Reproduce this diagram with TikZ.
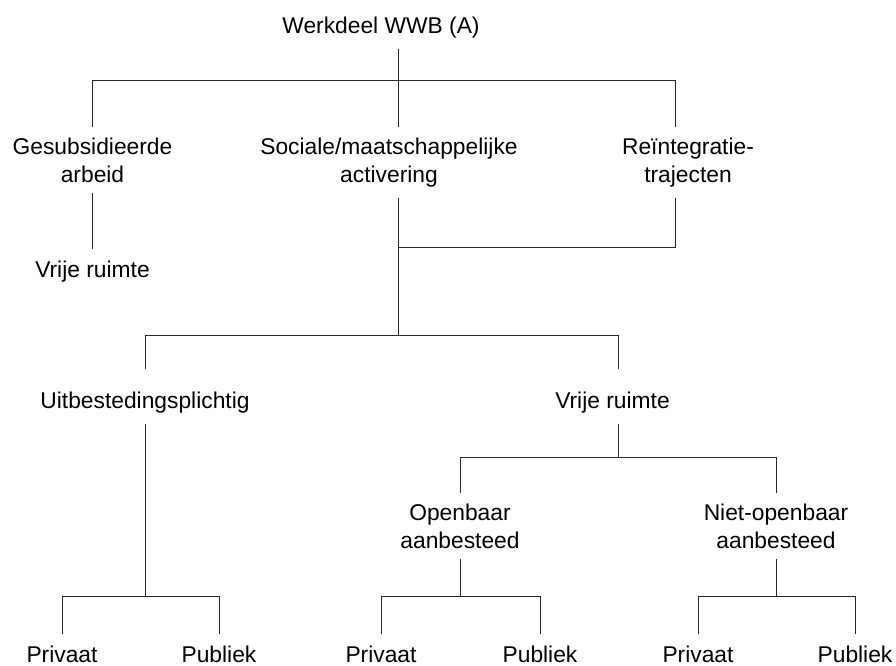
\documentclass[tikz,border=0pt]{standalone}
\usepackage{fontspec}
\setmainfont{Liberation Sans}
\begin{document}
\begin{tikzpicture}[x=1pt,y=-1pt,
	label/.style={font=\fontsize{22.8}{28}\selectfont, align=center, inner xsep=0pt, inner ysep=11pt, outer sep=0pt},
	link/.style={line width=1pt, draw=black!85}]
	\useasboundingbox (0,0) rectangle (896,665);
	% tekstblokken
	\node[label, anchor=base]  (root)  at (381,33)    {Werkdeel WWB (A)};
	\node[label, anchor=north] (gesub) at (92.5,126.6) {Gesubsidieerde\\arbeid};
	\node[label, anchor=north] (soc)   at (389,126.6) {Sociale/maatschappelijke\\activering};
	\node[label, anchor=north] (reint) at (688,126.6) {Reïntegratie-\\trajecten};
	\node[label, anchor=base]  (vrij1) at (92.5,277)  {Vrije ruimte};
	\node[label, anchor=base, text height=27.6pt] (uitb)  at (145,408)   {Uitbestedingsplichtig};
	\node[label, anchor=base, text height=27.6pt] (vrij2) at (612.5,408) {Vrije ruimte};
	\node[label, anchor=north] (openb) at (460,492.6) {Openbaar\\aanbesteed};
	\node[label, anchor=north] (nopen) at (776,492.6) {Niet-openbaar\\aanbesteed};
	\node[label, anchor=base]  (priv1) at (62,662)  {Privaat};
	\node[label, anchor=base]  (publ1) at (219,662) {Publiek};
	\node[label, anchor=base]  (priv2) at (381,662) {Privaat};
	\node[label, anchor=base]  (publ2) at (540,662) {Publiek};
	\node[label, anchor=base]  (priv3) at (698,662) {Privaat};
	\node[label, anchor=base]  (publ3) at (855,662) {Publiek};
	% knooppunten
	\coordinate (top)   at (398,80);
	\coordinate (topR)  at (675,80);
	\coordinate (reinJ) at (398,247);
	\coordinate (mid)   at (398,335);
	\coordinate (midR)  at (618,335);
	\coordinate (vrijJ) at (618,457);
	\coordinate (leafJ) at (145,596);
	% lijnen
	\draw[link] (root.south -| top) -- (top);
	\draw[link] (gesub.north) |- (topR) -- (reint.north -| topR);
	\draw[link] (top) -- (soc.north -| top);
	\draw[link] (gesub.south) -- (vrij1.north);
	\draw[link] (soc.south -| mid) -- (mid);
	\draw[link] (reint.south -| topR) |- (reinJ);
	\draw[link] (uitb.north) |- (midR) -- (vrij2.north -| midR);
	\draw[link] (vrij2.south -| vrijJ) -- (vrijJ);
	\draw[link] (openb.north) |- (vrijJ) -| (nopen.north);
	\draw[link] (uitb.south) -- (leafJ);
	\draw[link] (priv1.north) |- (leafJ) -| (publ1.north);
	\draw[link] (openb.south) -- (openb.south |- leafJ);
	\draw[link] (priv2.north) |- (openb.south |- leafJ) -| (publ2.north);
	\draw[link] (nopen.south) -- (nopen.south |- leafJ);
	\draw[link] (priv3.north) |- (nopen.south |- leafJ) -| (publ3.north);
\end{tikzpicture}
\end{document}
